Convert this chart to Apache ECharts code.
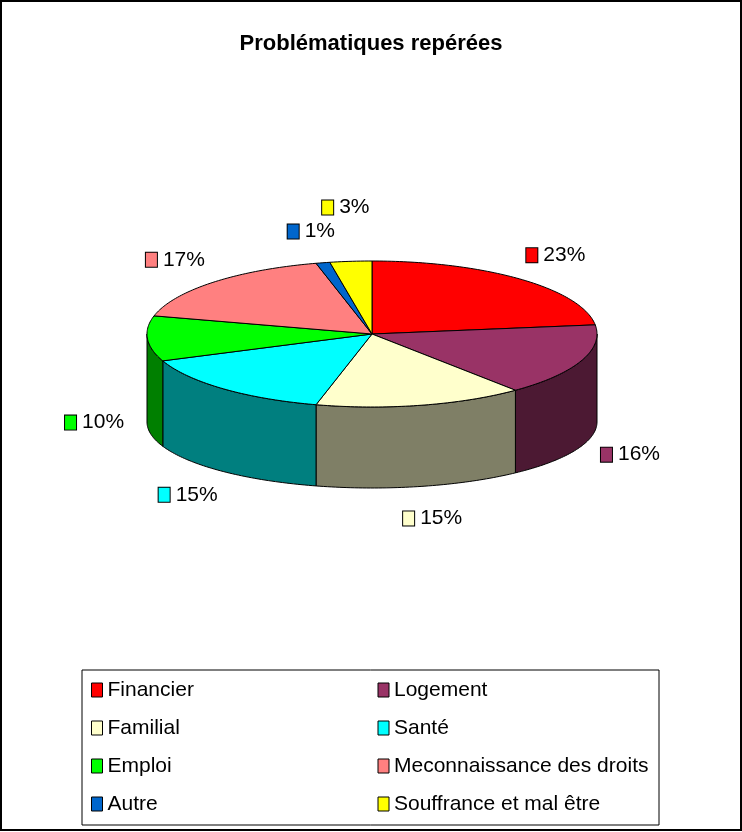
<!DOCTYPE html>
<html>
<head>
<meta charset="utf-8">
<script src="https://cdn.jsdelivr.net/npm/echarts@6/dist/echarts.min.js"></script>
<style>
  html, body { margin: 0; padding: 0; background: #fff; }
  #chart { width: 742px; height: 832px; }
</style>
</head>
<body>
<div id="chart"></div>
<script>
// catégories et valeurs (en %)
const categories = ['Financier', 'Logement', 'Familial', 'Santé', 'Emploi', 'Meconnaissance des droits', 'Autre', 'Souffrance et mal être'];
const values = [23, 16, 15, 15, 10, 17, 1, 3];
const colors = ['#FF0000', '#993366', '#FFFFCC', '#00FFFF', '#00FF00', '#FF8080', '#0066CC', '#FFFF00'];

const FONT = "'Liberation Sans', Arial, sans-serif";
const LABEL_SIZE = 21;

// géométrie du camembert 3D
const CX = 372, CY = 334;      // centre de l'ellipse du dessus
const RX = 225, RY = 73;       // rayons du dessus
const DEPTH = 88, RY2 = 66;    // épaisseur et rayon vertical du dessous
const LRX = 278, LRY = 105, LDEPTH = 82;  // position des étiquettes

const total = values.reduce((a, b) => a + b, 0);
const starts = [];
values.reduce((acc, v, i) => { starts[i] = acc; return acc + v; }, 0);

function darker(hex) {
  const n = parseInt(hex.slice(1), 16);
  const r = (n >> 16) >> 1, g = ((n >> 8) & 255) >> 1, b = (n & 255) >> 1;
  return 'rgb(' + r + ',' + g + ',' + b + ')';
}

function pt(cx, cy, rx, ry, deg) {
  const r = deg * Math.PI / 180;
  return [cx + rx * Math.sin(r), cy - ry * Math.cos(r)];
}

function arc(cx, cy, rx, ry, a0, a1) {
  const n = Math.max(2, Math.ceil(Math.abs(a1 - a0)));
  const pts = [];
  for (let k = 0; k <= n; k++) pts.push(pt(cx, cy, rx, ry, a0 + (a1 - a0) * k / n));
  return pts;
}

function pctText(v) { return Math.round(v / total * 100) + '%'; }

// position des étiquettes, avec un petit décalage vers le haut si elles se chevauchent
const labelPos = [];
values.forEach((v, i) => {
  const mid = (starts[i] + v / 2) / total * 360;
  const cosm = Math.cos(mid * Math.PI / 180);
  const p = pt(CX, CY + (cosm < 0 ? LDEPTH : 0), LRX, LRY, mid);
  const w = 17 + pctText(v).length * LABEL_SIZE * 0.6, h = 24;
  for (let j = 0; j < i; j++) {
    const q = labelPos[j];
    if (Math.abs(q.x - p[0]) < (q.w + w) / 2 && Math.abs(q.y - p[1]) < h) {
      p[1] = q.y - h;
    }
  }
  labelPos.push({ x: p[0], y: p[1], w: w });
});

function renderItem(params, api) {
  const i = params.seriesIndex;
  const v = api.value(0);
  const a0 = starts[i] / total * 360;
  const a1 = (starts[i] + v) / total * 360;
  const col = colors[i];
  const children = [];

  // paroi visible (moitié avant)
  const s = Math.max(a0, 90), e = Math.min(a1, 270);
  if (s < e) {
    const wall = arc(CX, CY, RX, RY, s, e).concat(arc(CX, CY + DEPTH, RX, RY2, e, s));
    children.push({
      type: 'polygon', z2: 1,
      shape: { points: wall },
      style: { fill: darker(col), stroke: '#000', lineWidth: 1 }
    });
  }

  // dessus
  const top = [[CX, CY]].concat(arc(CX, CY, RX, RY, a0, a1));
  children.push({
    type: 'polygon', z2: 10,
    shape: { points: top },
    style: { fill: col, stroke: '#000', lineWidth: 1, lineJoin: 'round' }
  });

  // étiquette
  const lp = labelPos[i];
  children.push({
    type: 'text', z2: 20,
    style: {
      x: lp.x, y: lp.y,
      text: '{sq|}{t|' + pctText(v) + '}',
      align: 'center', verticalAlign: 'middle',
      rich: {
        sq: { width: 11, height: 14, backgroundColor: col, borderColor: '#000', borderWidth: 1 },
        t: { fontSize: LABEL_SIZE, fontFamily: FONT, fill: '#000', padding: [0, 0, 0, 6] }
      }
    }
  });

  return { type: 'group', children: children };
}

const chart = echarts.init(document.getElementById('chart'), null, { renderer: 'canvas' });

chart.setOption({
  backgroundColor: '#fff',
  animation: false,
  title: {
    text: 'Problématiques repérées',
    left: 'center',
    top: 33,
    padding: 0,
    textStyle: { fontSize: 22, fontWeight: 'bold', fontFamily: FONT, color: '#000' }
  },
  legend: {
    left: 82,
    top: 670,
    width: 620,
    orient: 'horizontal',
    icon: 'rect',
    itemWidth: 11,
    itemHeight: 14,
    itemGap: 10,
    padding: [6, 5, 7, 9],
    borderColor: '#000',
    borderWidth: 1,
    itemStyle: { borderColor: '#000', borderWidth: 1 },
    textStyle: { fontSize: 21, fontFamily: FONT, color: '#000', width: 260, lineHeight: 28 },
    data: categories
  },
  graphic: [{
    type: 'rect',
    shape: { x: 1, y: 1, width: 740, height: 829 },
    style: { fill: 'none', stroke: '#000', lineWidth: 2 },
    silent: true
  }],
  series: categories.map((name, i) => ({
    type: 'custom',
    name: name,
    coordinateSystem: 'none',
    silent: true,
    itemStyle: { color: colors[i] },
    data: [[values[i]]],
    renderItem: renderItem
  }))
});
</script>
</body>
</html>
